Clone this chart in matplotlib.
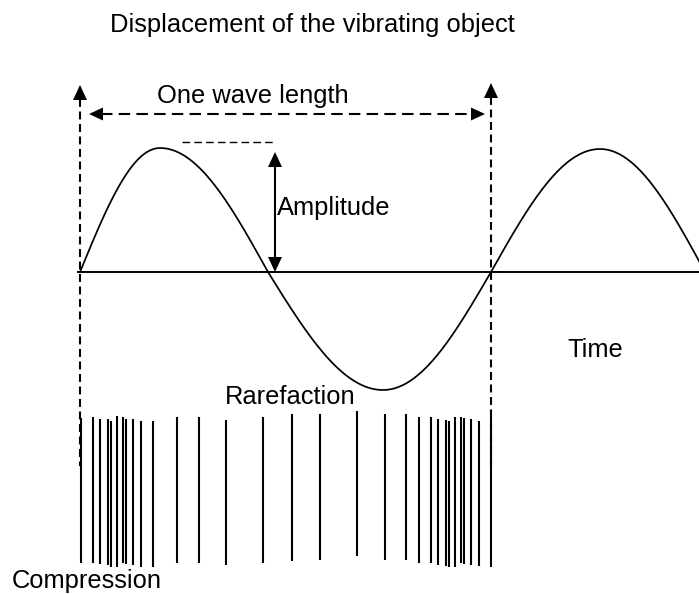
import numpy as np
import matplotlib
matplotlib.use("Agg")
import matplotlib.pyplot as plt

plt.rcParams['font.family'] = ['Liberation Sans', 'DejaVu Sans']

# ---- data (pixel-like diagram coordinates) ----
wave_x = [80, 160, 268, 383, 491, 600, 705]
wave_y = [272, 148, 272, 390, 272, 149, 272]
axis_y = 272
axis_x = [78, 699]

wl_left_x = 80
wl_right_x = 491
wl_top = [85, 83]
wl_bottom = 466
wl_arrow_y = 114
wl_arrow_x = [89, 485]

amp_x = 275
amp_y = [152, 272]
amp_dash_y = 142
amp_dash_x = [182, 273]

comp_x = [80.7, 92.7, 100, 107.7, 110.7, 116.7, 122.7, 126, 133.3, 141, 153,
          177.3, 198.7, 226, 263.3, 291.7, 320, 357.3, 385, 406, 418.7, 430.7,
          438.3, 445.7, 449, 455, 460.7, 464, 471, 479, 491]
comp_top = [418, 416.7, 418.7, 419.3, 421, 416, 416.7, 418.7, 419, 420.7, 420.7,
            416.7, 416.7, 420, 416.7, 414.3, 414.3, 411, 414.3, 414, 416.7, 417.3,
            419, 420, 420.7, 416.7, 416.7, 418.3, 419, 420.7, 417]
comp_bottom = [562.7, 562.7, 564, 565.3, 566.7, 566.7, 563.3, 564, 565, 566.7, 566.7,
               562.7, 562.7, 565.3, 562.7, 560.7, 560, 556, 560, 560, 562.7, 563.3,
               565, 566, 566.7, 566.7, 563.3, 564, 565, 566, 566.7]

labels = ["Displacement of the vibrating object", "One wave length", "Amplitude",
          "Time", "Rarefaction", "Compression"]
label_pos = [(110, 31.7), (157, 103), (277, 215), (567, 357), (225, 404), (12, 588)]

# ---- figure ----
fig = plt.figure(figsize=(6.99, 5.94), dpi=100)
ax = fig.add_axes([0, 0, 1, 1])
ax.set_xlim(0, 699)
ax.set_ylim(594, 0)
ax.axis('off')


def head(tip, direction, length=15, width=14):
    tx, ty = tip
    dx, dy = direction
    bx, by = tx - dx * length, ty - dy * length
    px, py = -dy, dx
    pts = [(tx, ty), (bx + px * width / 2, by + py * width / 2),
           (bx - px * width / 2, by - py * width / 2)]
    ax.fill([p[0] for p in pts], [p[1] for p in pts], color='black', lw=0, zorder=5)


# wave
xs, ys = [], []
for i in range(len(wave_x) - 1):
    x0, x1 = wave_x[i], wave_x[i + 1]
    y0, y1 = wave_y[i], wave_y[i + 1]
    t = np.linspace(0, 1, 60)
    if y0 == axis_y:
        f = np.sin(np.pi / 2 * t)
    else:
        f = 1 - np.cos(np.pi / 2 * t)
    xs.extend(x0 + (x1 - x0) * t)
    ys.extend(y0 + (y1 - y0) * f)
ax.plot(xs, ys, color='black', lw=1.25, solid_capstyle='butt')

# time axis
ax.plot(axis_x, [axis_y, axis_y], color='black', lw=1.4)

# wavelength dashed verticals with arrows
for x, top in zip([wl_left_x, wl_right_x], wl_top):
    ax.plot([x, x], [top + 14, wl_bottom], color='black', lw=1.5,
            dashes=(3.8, 2.2))
    head((x, top), (0, -1), length=15, width=14)

# wavelength horizontal double arrow
ax.plot([wl_arrow_x[0] + 12, wl_arrow_x[1] - 12], [wl_arrow_y, wl_arrow_y],
        color='black', lw=1.5, dashes=(5.5, 3))
head((wl_arrow_x[0], wl_arrow_y), (-1, 0), length=14, width=13)
head((wl_arrow_x[1], wl_arrow_y), (1, 0), length=14, width=13)

# amplitude
ax.plot(amp_dash_x, [amp_dash_y, amp_dash_y], color='black', lw=1.0, dashes=(5.5, 3))
ax.plot([amp_x, amp_x], [amp_y[0] + 12, amp_y[1] - 12], color='black', lw=1.5)
head((amp_x, amp_y[0]), (0, -1), length=15, width=14)
head((amp_x, amp_y[1]), (0, 1), length=15, width=14)

# compression / rarefaction lines
ax.vlines(comp_x, comp_top, comp_bottom, color='black', lw=1.5)

# labels
for s, (x, y) in zip(labels, label_pos):
    ax.text(x, y, s, fontsize=18.4, ha='left', va='baseline', color='black')

fig.savefig('out.png', dpi=100)
